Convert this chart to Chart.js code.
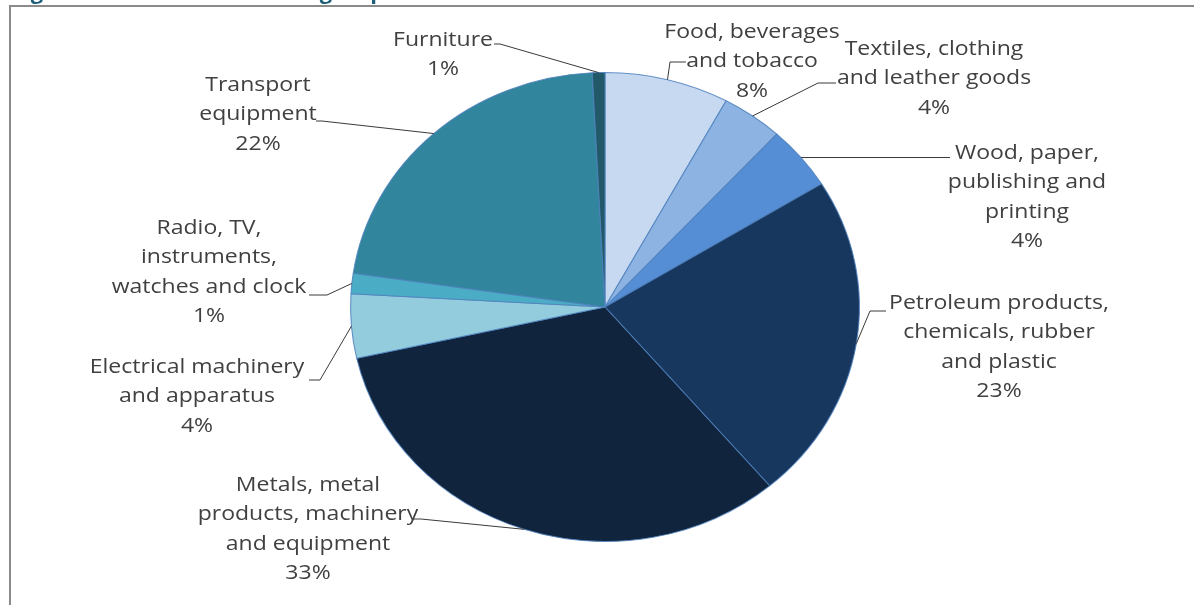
<!DOCTYPE html>
<html>
<head>
<meta charset="utf-8">
<script src="https://cdn.jsdelivr.net/npm/chart.js@4.4.1/dist/chart.umd.min.js"></script>
<style>
  html, body { margin: 0; padding: 0; background: #fff; }
  #wrap { position: relative; width: 1194px; height: 605px; }
</style>
</head>
<body>
<div id="wrap"><canvas id="c" width="1194" height="605"></canvas></div>
<script>
// ---- data ----
const categories = [
  ["Food, beverages", "and tobacco"],
  ["Textiles, clothing", "and leather goods"],
  ["Wood, paper,", "publishing and", "printing"],
  ["Petroleum products,", "chemicals, rubber", "and plastic"],
  ["Metals, metal", "products, machinery", "and equipment"],
  ["Electrical machinery", "and apparatus"],
  ["Radio, TV,", "instruments,", "watches and clock"],
  ["Transport", "equipment"],
  ["Furniture"]
];
const shares = [7.9, 3.9, 4.4, 22.6, 32.7, 4.4, 1.4, 21.9, 0.8];
const colors = ["#C6D9F1", "#8DB3E2", "#558ED5", "#17375E", "#10243E", "#93CDDD", "#4BACC6", "#31859C", "#215968"];
const titleText = "Figure 4: Share of industrial group";

// ---- label layout (text centre x, first line y, leader elbow, leader end x) ----
const labelLayout = [
  { x: 752, y: 32, elbow: [670, 62], endX: 686 },
  { x: 934, y: 49, elbow: [818, 83], endX: 836 },
  { x: 1027, y: 153, elbow: null, endX: 950 },
  { x: 999, y: 303, elbow: [870, 311], endX: 886 },
  { x: 308, y: 485, elbow: [421, 519], endX: 413 },
  { x: 197, y: 367, elbow: [320, 380], endX: 309 },
  { x: 209, y: 228, elbow: [327, 295], endX: 309 },
  { x: 258, y: 85, elbow: [322, 121], endX: 316 },
  { x: 443, y: 40, elbow: [500, 44], endX: 494 }
];
const X_STRETCH = 1.085;
const TEXT_STRETCH = 1.15;
const LINE_H = 29.5;

const framePlugin = {
  id: 'frame',
  beforeDraw(chart) {
    const ctx = chart.ctx;
    ctx.save();
    ctx.fillStyle = '#ffffff';
    ctx.fillRect(0, 0, chart.width, chart.height);
    ctx.strokeStyle = '#8a8a8a';
    ctx.lineWidth = 2;
    ctx.beginPath();
    ctx.moveTo(1200, 6);
    ctx.lineTo(10, 6);
    ctx.lineTo(10, 620);
    ctx.stroke();
    ctx.fillStyle = '#1F5F7A';
    ctx.font = 'bold 22px "Open Sans"';
    ctx.textBaseline = 'alphabetic';
    ctx.fillText(titleText, 12, -1);
    ctx.restore();
  }
};

const stretchPlugin = {
  id: 'stretch',
  beforeDatasetsDraw(chart) {
    const meta = chart.getDatasetMeta(0);
    const a = meta.data[0];
    const ctx = chart.ctx;
    ctx.save();
    ctx.translate(a.x, a.y);
    ctx.scale(X_STRETCH, 1);
    ctx.translate(-a.x, -a.y);
  },
  afterDatasetsDraw(chart) {
    chart.ctx.restore();
  }
};

const labelPlugin = {
  id: 'pieLabels',
  afterDraw(chart) {
    const ctx = chart.ctx;
    const meta = chart.getDatasetMeta(0);
    const total = shares.reduce((s, v) => s + v, 0);
    ctx.save();
    ctx.font = '20px "Open Sans"';
    ctx.fillStyle = '#404040';
    ctx.textAlign = 'center';
    ctx.textBaseline = 'middle';
    meta.data.forEach((arc, i) => {
      const lay = labelLayout[i];
      const lines = categories[i].concat([Math.round(shares[i] / total * 100) + '%']);
      lines.forEach((t, k) => {
        ctx.save();
        ctx.translate(lay.x, lay.y + k * LINE_H);
        ctx.scale(TEXT_STRETCH, 1);
        ctx.fillText(t, 0, 0);
        ctx.restore();
      });
      const mid = (arc.startAngle + arc.endAngle) / 2;
      const ax = arc.x + Math.cos(mid) * arc.outerRadius * X_STRETCH;
      const ay = arc.y + Math.sin(mid) * arc.outerRadius;
      ctx.strokeStyle = '#3a3a3a';
      ctx.lineWidth = 1;
      ctx.beginPath();
      ctx.moveTo(ax, ay);
      if (lay.elbow) {
        ctx.lineTo(lay.elbow[0], lay.elbow[1]);
        ctx.lineTo(lay.endX, lay.elbow[1]);
      } else {
        ctx.lineTo(lay.endX, ay);
      }
      ctx.stroke();
    });
    ctx.restore();
  }
};

new Chart(document.getElementById('c'), {
  type: 'pie',
  data: {
    labels: categories.map(c => c.join(' ')),
    datasets: [{
      data: shares,
      backgroundColor: colors,
      borderColor: 'rgba(79,129,189,0.85)',
      borderWidth: 1
    }]
  },
  options: {
    responsive: false,
    animation: false,
    layout: { padding: { left: 16, right: 0, top: 72, bottom: 63 } },
    plugins: { legend: { display: false }, tooltip: { enabled: false }, title: { display: false } }
  },
  plugins: [framePlugin, stretchPlugin, labelPlugin]
});
</script>
</body>
</html>
